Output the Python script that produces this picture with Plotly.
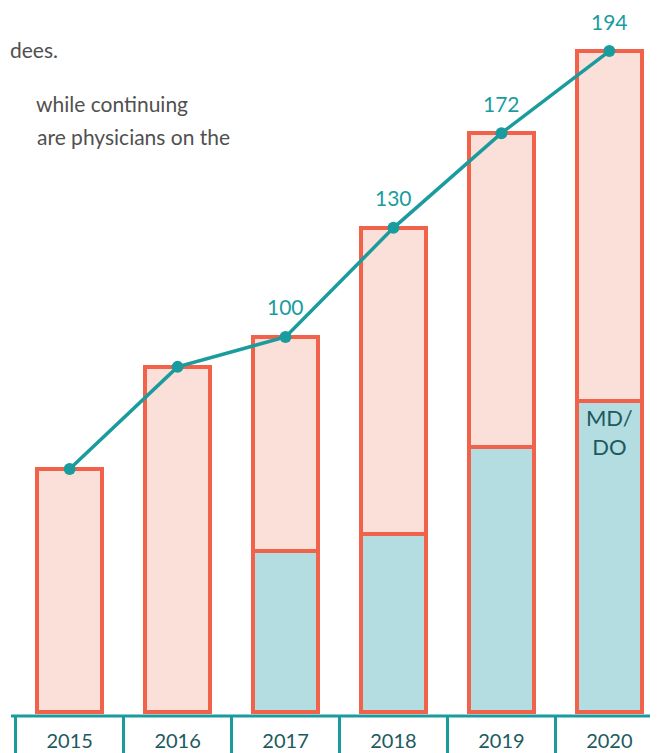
import plotly.graph_objects as go

# values (bar heights in chart units, 2020 = 194)
years = ["2015", "2016", "2017", "2018", "2019", "2020"]
bar_total = [71.3, 101.3, 110.1, 142.1, 169.9, 194.0]
md_do = [None, None, 47.3, 52.2, 77.8, 91.3]
point_labels = [None, None, "100", "130", "172", "194"]
md_do_text = ["", "", "", "", "", "MD/<br>DO"]

other = [t - (m or 0) for t, m in zip(bar_total, md_do)]

CORAL = "#f0634a"
PINK = "#fbdfd9"
TEAL_FILL = "#b3dde0"
TEAL = "#1a9c9e"
DARK_TEAL = "#1c5a60"
GREY = "#505050"
FONT = "Lato"

# page has an 8px body margin, so the figure is 8px smaller than the window
W, H = 650, 745
PLOT_H = 708

fig = go.Figure()
fig.add_trace(go.Bar(
    x=years, y=md_do,
    marker=dict(color=TEAL_FILL, line=dict(color=CORAL, width=4)),
    width=0.6,
    text=md_do_text,
    textposition="inside",
    insidetextanchor="end",
    textangle=0,
    constraintext="none",
    textfont=dict(family=FONT, size=22, color=DARK_TEAL),
    hoverinfo="skip",
))
fig.add_trace(go.Bar(
    x=years, y=other,
    marker=dict(color=PINK, line=dict(color=CORAL, width=4)),
    width=0.6,
    hoverinfo="skip",
))
fig.add_trace(go.Scatter(
    x=years, y=bar_total,
    mode="lines+markers",
    line=dict(color=TEAL, width=3.5),
    marker=dict(color=TEAL, size=12),
    cliponaxis=False,
))

for i, (tot, lab) in enumerate(zip(bar_total, point_labels)):
    if lab:
        fig.add_annotation(x=i, y=tot, text=lab, showarrow=False, yshift=30,
                           font=dict(family=FONT, size=21, color=TEAL))

# paragraph fragments at the top left
fig.add_annotation(xref="paper", yref="paper", x=0, y=1 - 42 / PLOT_H,
                   xanchor="left", yanchor="middle", showarrow=False, text="dees.",
                   font=dict(family=FONT, size=21, color=GREY))
for txt, right_px, y_px in [("while continuing", 182, 95),
                            ("are physicians on the", 224, 129)]:
    fig.add_annotation(xref="paper", yref="paper", x=right_px / W, y=1 - y_px / PLOT_H,
                       xanchor="right", yanchor="middle", showarrow=False, text=txt,
                       font=dict(family=FONT, size=21, color=GREY))

# top edge of the year boxes
fig.add_shape(type="line", xref="paper", yref="paper", x0=3 / W, x1=1, y0=0, y1=0,
              line=dict(color=TEAL, width=3))

fig.update_layout(
    width=W, height=H,
    margin=dict(l=0, r=0, t=0, b=H - PLOT_H, autoexpand=False),
    barmode="stack",
    showlegend=False,
    plot_bgcolor="white",
    paper_bgcolor="white",
)
fig.update_xaxes(
    type="category",
    automargin=False,
    range=[-0.5712, 5.4507],
    showgrid=False, showline=False, zeroline=False,
    ticks="outside", tickson="boundaries", ticklen=40, tickwidth=3, tickcolor=TEAL,
    ticklabelstandoff=11,
    tickfont=dict(family=FONT, size=20, color=DARK_TEAL),
)
fig.update_yaxes(range=[-1.17, 206.63], visible=False, automargin=False)

fig.write_html("out.html")
